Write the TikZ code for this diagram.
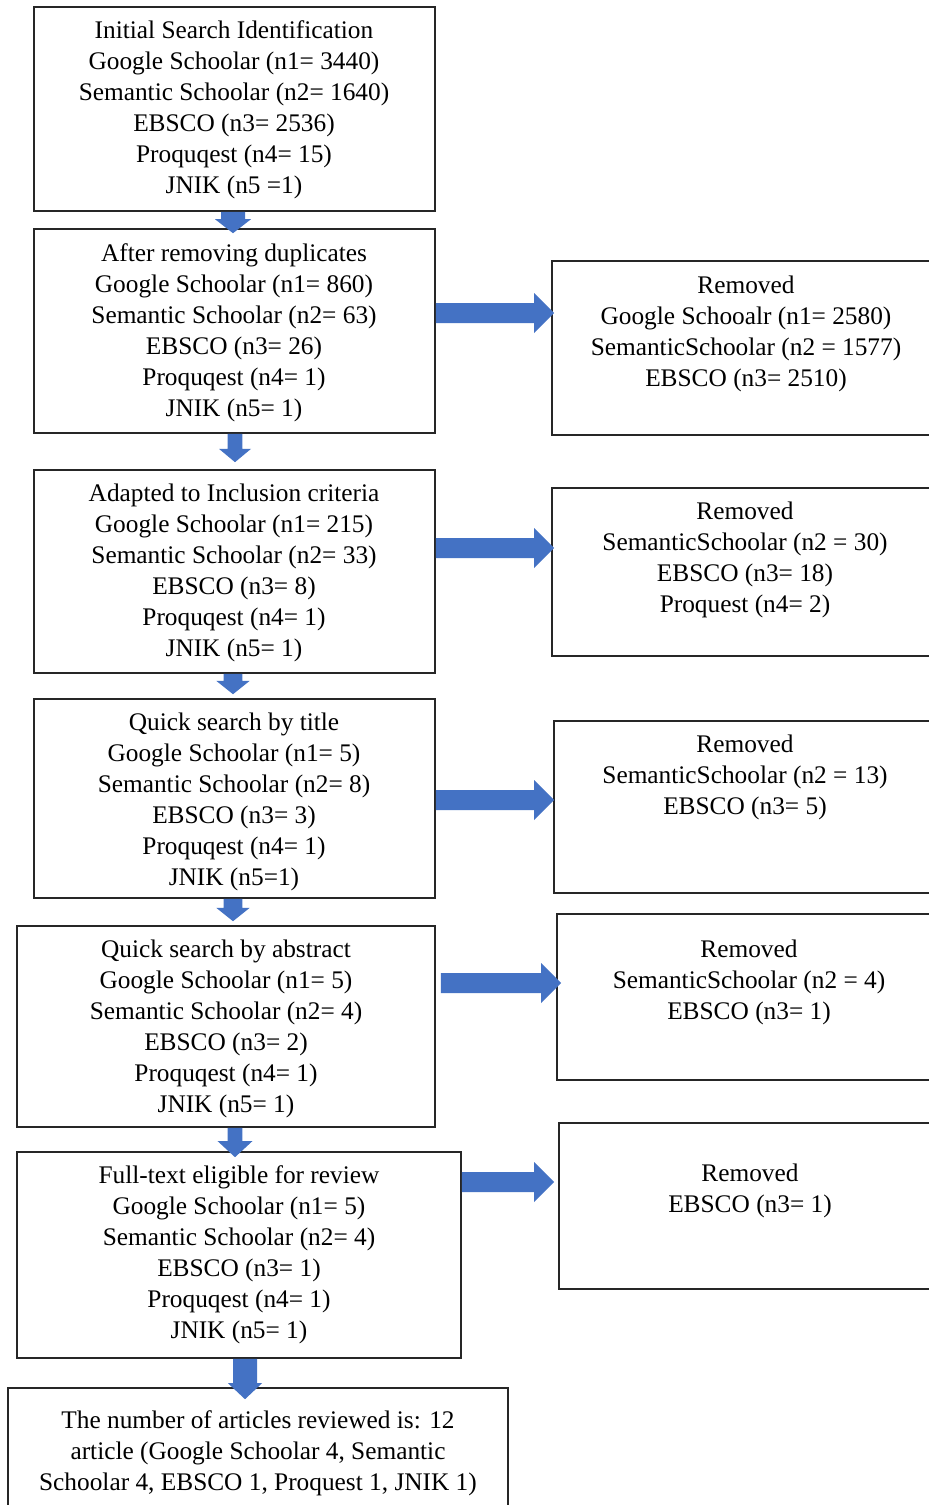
\documentclass[tikz,border=0pt]{standalone}
\usepackage{fontspec}
\setmainfont{Liberation Serif}
\usetikzlibrary{fit,calc}
\definecolor{arrowblue}{HTML}{4472C4}
\tikzset{
  box/.style={draw=black!85, line width=1.2pt, inner sep=0pt, fill=none},
  txt/.style={align=center, inner sep=0pt, font=\rmfamily\fontsize{19}{23.25}\selectfont},
  ab/.style={fill=arrowblue}
}
% right arrow: #1 from node, #2 to node, #3 y coordinate, #4 start offset, #5 tip offset
\newcommand\rarr[5]{%
  \fill[ab] let \p1=(#1.east |- #3), \p2=(#2.west |- #3) in
    (\x1+#4,\y1+7.5pt) -- (\x2+#5-15pt,\y1+7.5pt) -- (\x2+#5-15pt,\y1+15pt) --
    (\x2+#5,\y1) -- (\x2+#5-15pt,\y1-15pt) -- (\x2+#5-15pt,\y1-7.5pt) --
    (\x1+#4,\y1-7.5pt) -- cycle;}
% down arrow: #1 from node, #2 to node, #3 x coordinate, #4 tip offset below target top, #5 half shaft, #6 half head, #7 head length
\newcommand\darr[7]{%
  \fill[ab] let \p1=(#1.south -| #3), \p2=(#2.north -| #3) in
    (\x1-#5,\y1) -- (\x1-#5,\y2-#4+#7) -- (\x1-#6,\y2-#4+#7) --
    (\x1,\y2-#4) -- (\x1+#6,\y2-#4+#7) -- (\x1+#5,\y2-#4+#7) --
    (\x1+#5,\y1) -- cycle;}
\begin{document}
\begin{tikzpicture}[x=0.75pt,y=-0.75pt]
\useasboundingbox[fill=white] (0,0) rectangle (928,1505);

% main boxes
\node[box, fit={(34,7) (435,211)}] (b1) {};
\node[box, fit={(34,229) (435,433)}] (b2) {};
\node[box, fit={(34,470) (435,673)}] (b3) {};
\node[box, fit={(34,699) (435,898)}] (b4) {};
\node[box, fit={(17,926) (435,1127)}] (b5) {};
\node[box, fit={(17,1152) (461,1358)}] (b6) {};
\node[box, fit={(8,1388) (508,1520)}] (b7) {};

% removed boxes
\node[box, fit={(552,261) (935,435)}] (r1) {};
\node[box, fit={(552,488) (935,656)}] (r2) {};
\node[box, fit={(554,721) (935,893)}] (r3) {};
\node[box, fit={(557,914) (935,1080)}] (r4) {};
\node[box, fit={(559,1123) (935,1289)}] (r5) {};

% texts
\node[txt] (t1) at (234,110) {Initial Search Identification\\Google Schoolar (n1= 3440)\\Semantic Schoolar (n2= 1640)\\EBSCO (n3= 2536)\\Proquqest (n4= 15)\\JNIK (n5 =1)};
\node[txt] (t2) at (234,332.5) {After removing duplicates\\Google Schoolar (n1= 860)\\Semantic Schoolar (n2= 63)\\EBSCO (n3= 26)\\Proquqest (n4= 1)\\JNIK (n5= 1)};
\node[txt] (t3) at (234,572.5) {Adapted to Inclusion criteria\\Google Schoolar (n1= 215)\\Semantic Schoolar (n2= 33)\\EBSCO (n3= 8)\\Proquqest (n4= 1)\\JNIK (n5= 1)};
\node[txt] (t4) at (234,801.5) {Quick search by title\\Google Schoolar (n1= 5)\\Semantic Schoolar (n2= 8)\\EBSCO (n3= 3)\\Proquqest (n4= 1)\\JNIK (n5=1)};
\node[txt] (t5) at (226,1028.5) {Quick search by abstract\\Google Schoolar (n1= 5)\\Semantic Schoolar (n2= 4)\\EBSCO (n3= 2)\\Proquqest (n4= 1)\\JNIK (n5= 1)};
\node[txt] (t6) at (239,1254.5) {Full-text eligible for review\\Google Schoolar (n1= 5)\\Semantic Schoolar (n2= 4)\\EBSCO (n3= 1)\\Proquqest (n4= 1)\\JNIK (n5= 1)};
\node[txt] (t7) at (258,1453) {The number of articles reviewed is: 12\\article (Google Schoolar 4, Semantic\\Schoolar 4, EBSCO 1, Proquest 1, JNIK 1)};

\node[txt] (s1) at (746,333.5) {Removed\\Google Schooalr (n1= 2580)\\SemanticSchoolar (n2 = 1577)\\EBSCO (n3= 2510)};
\node[txt] (s2) at (745,560) {Removed\\SemanticSchoolar (n2 = 30)\\EBSCO (n3= 18)\\Proquest (n4= 2)};
\node[txt] (s3) at (745,777) {Removed\\SemanticSchoolar (n2 = 13)\\EBSCO (n3= 5)};
\node[txt] (s4) at (749,982) {Removed\\SemanticSchoolar (n2 = 4)\\EBSCO (n3= 1)};
\node[txt] (s5) at (750,1191) {Removed\\EBSCO (n3= 1)};

% helper coordinates
\coordinate (y1) at (0,313);
\coordinate (y2) at (0,548);
\coordinate (y3) at (0,800);
\coordinate (y4) at (0,983);
\coordinate (y5) at (0,1182);
\coordinate (x12) at (233,0);
\coordinate (x23) at (235,0);
\coordinate (x34) at (233,0);
\coordinate (x45) at (233,0);
\coordinate (x56) at (235,0);
\coordinate (x67) at (245,0);

% right arrows
\rarr{b2}{r1}{y1}{0pt}{2.25pt}
\rarr{b3}{r2}{y2}{0pt}{2.25pt}
\rarr{b4}{r3}{y3}{0pt}{0.75pt}
\rarr{b5}{r4}{y4}{3.75pt}{3.75pt}
\rarr{b6}{r5}{y5}{0pt}{-3pt}

% down arrows
\darr{b1}{b2}{x12}{3.75pt}{9pt}{13.5pt}{10.5pt}
\darr{b2}{b3}{x23}{-5.25pt}{5.5pt}{12pt}{10pt}
\darr{b3}{b4}{x34}{-3pt}{7pt}{12.5pt}{10pt}
\darr{b4}{b5}{x45}{-3pt}{7pt}{12.5pt}{10pt}
\darr{b5}{b6}{x56}{4.5pt}{5.5pt}{13pt}{12pt}
\darr{b6}{b7}{x67}{9pt}{9pt}{12.75pt}{12pt}
\end{tikzpicture}
\end{document}
